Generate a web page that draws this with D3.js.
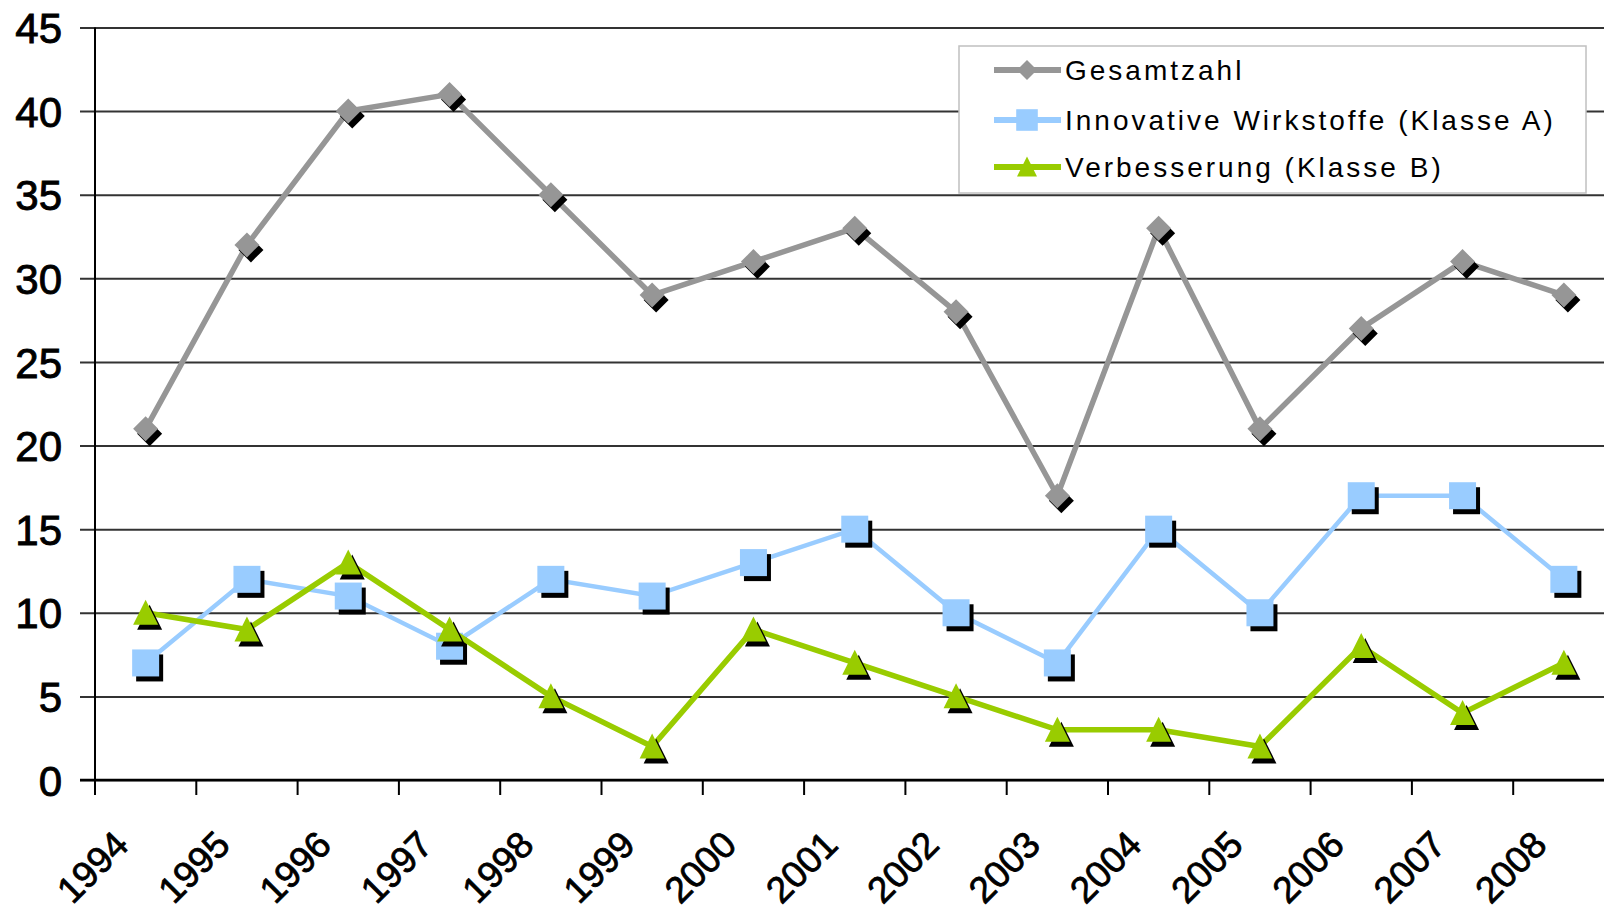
<!DOCTYPE html>
<html>
<head>
<meta charset="utf-8">
<script src="https://cdn.jsdelivr.net/npm/d3@7"></script>
<style>
  html, body { margin: 0; padding: 0; background: #fff; overflow: hidden; }
  svg { display: block; }
  text { font-family: "Liberation Sans", Arial, sans-serif; fill: #000; }
</style>
</head>
<body>
<svg id="chart" width="1604" height="916"></svg>
<script>
const years = ["1994","1995","1996","1997","1998","1999","2000","2001","2002","2003","2004","2005","2006","2007","2008"];
const gesamtzahl = [21, 32, 40, 41, 35, 29, 31, 33, 28, 17, 33, 21, 27, 31, 29];
const klasseA    = [7, 12, 11, 8, 12, 11, 13, 15, 10, 7, 15, 10, 17, 17, 12];
const klasseB    = [10, 9, 13, 9, 5, 2, 9, 7, 5, 3, 3, 2, 8, 4, 7];
const yTicks     = [0, 5, 10, 15, 20, 25, 30, 35, 40, 45];
const seriesNames = ["Gesamtzahl", "Innovative Wirkstoffe (Klasse A)", "Verbesserung (Klasse B)"];

const series = [
  { name: seriesNames[0], values: gesamtzahl, color: "#969696", shape: "diamond", lw: 5.5 },
  { name: seriesNames[1], values: klasseA,    color: "#99ccff", shape: "square",  lw: 4.5 },
  { name: seriesNames[2], values: klasseB,    color: "#99cc00", shape: "triangle",lw: 5.5 }
];

const W = 1604, H = 916;
const left = 95, band = 101.3;
const svg = d3.select("#chart");

const x = d3.scaleBand().domain(years).range([left, left + band * years.length]).padding(0);
const y = d3.scaleLinear().domain([0, 45]).range([780, 27.5]);
const cx = d => x(d) + x.bandwidth() / 2;

// Gridlines + y labels via axis
const yAxis = d3.axisLeft(y).tickValues(yTicks).tickSize(-(W - 80)).tickPadding(18).tickFormat(d3.format("d"));
const gy = svg.append("g").attr("transform", "translate(80,0)").call(yAxis);
gy.select(".domain").remove();
gy.selectAll(".tick line").attr("stroke", "#333").attr("stroke-width", 2);
gy.selectAll(".tick text").attr("font-size", 42).attr("font-family", "Liberation Sans, Arial, sans-serif")
  .attr("fill", "#000").attr("stroke", "#000").attr("stroke-width", 0.9).attr("dy", "0.36em");

// y axis line
svg.append("line").attr("x1", left).attr("x2", left).attr("y1", y(45)).attr("y2", y(0) + 15)
  .attr("stroke", "#000").attr("stroke-width", 2);
// x axis line
svg.append("line").attr("x1", 80).attr("x2", W).attr("y1", y(0)).attr("y2", y(0))
  .attr("stroke", "#000").attr("stroke-width", 2.5);
// x ticks at category boundaries
svg.append("g").selectAll("line").data(years).join("line")
  .attr("x1", d => x(d)).attr("x2", d => x(d))
  .attr("y1", y(0)).attr("y2", y(0) + 15)
  .attr("stroke", "#000").attr("stroke-width", 2);
// x labels
svg.append("g").selectAll("text").data(years).join("text")
  .attr("transform", d => `translate(${cx(d) - 15},847) rotate(-45)`)
  .attr("text-anchor", "end")
  .attr("font-size", 37)
  .attr("stroke", "#000").attr("stroke-width", 0.8)
  .text(d => d);

// symbol generator
function symbolPath(shape, s) {
  const p = d3.path();
  if (shape === "diamond") {
    p.moveTo(0, -s); p.lineTo(s, 0); p.lineTo(0, s); p.lineTo(-s, 0); p.closePath();
  } else if (shape === "square") {
    p.rect(-s, -s, 2 * s, 2 * s);
  } else {
    p.moveTo(0, -s * 1.05); p.lineTo(s, s * 0.95); p.lineTo(-s, s * 0.95); p.closePath();
  }
  return p.toString();
}
const markerSize = { diamond: 12.5, square: 13.5, triangle: 12.5 };

const line = d3.line().x((d, i) => cx(years[i])).y(d => y(d));

series.forEach(s => {
  const g = svg.append("g");
  g.append("path").attr("d", line(s.values)).attr("fill", "none")
    .attr("stroke", s.color).attr("stroke-width", s.lw).attr("stroke-linejoin", "miter");
  // shadows
  g.append("g").selectAll("path").data(s.values).join("path")
    .attr("d", symbolPath(s.shape, markerSize[s.shape]))
    .attr("transform", (d, i) => `translate(${cx(years[i]) + 4},${y(d) + 5})`)
    .attr("fill", "#000");
  g.append("g").selectAll("path").data(s.values).join("path")
    .attr("d", symbolPath(s.shape, markerSize[s.shape]))
    .attr("transform", (d, i) => `translate(${cx(years[i])},${y(d)})`)
    .attr("fill", s.color);
});

// Legend
const lg = svg.append("g");
lg.append("rect").attr("x", 959).attr("y", 46).attr("width", 627).attr("height", 147)
  .attr("fill", "#fff").attr("stroke", "#c0c0c0").attr("stroke-width", 1.5);
const rowY = [70, 120, 167];
series.forEach((s, i) => {
  const yy = rowY[i];
  lg.append("line").attr("x1", 994).attr("x2", 1061).attr("y1", yy).attr("y2", yy)
    .attr("stroke", s.color).attr("stroke-width", 6);
  lg.append("path").attr("d", symbolPath(s.shape, markerSize[s.shape] * 0.8))
    .attr("transform", `translate(1027,${yy})`).attr("fill", s.color);
  lg.append("text").attr("x", 1065).attr("y", yy).attr("dy", "0.36em")
    .attr("font-size", 28).attr("letter-spacing", 3).text(s.name);
});
</script>
</body>
</html>
